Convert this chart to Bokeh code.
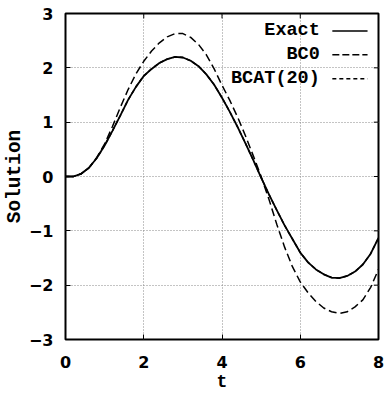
from bokeh.plotting import figure
from bokeh.models import Label, Arrow, FixedTicker
from bokeh.embed import file_html
from bokeh.resources import INLINE

t = [0.0, 0.2, 0.4, 0.6, 0.8, 1.0, 1.2, 1.4, 1.6, 1.8, 2.0, 2.2, 2.4, 2.6, 2.8,
     3.0, 3.2, 3.4, 3.6, 3.8, 4.0, 4.2, 4.4, 4.6, 4.8, 5.0, 5.2, 5.4, 5.6, 5.8,
     6.0, 6.2, 6.4, 6.6, 6.8, 7.0, 7.2, 7.4, 7.6, 7.8, 8.0]
exact = [0.0, 0.0, 0.05, 0.16, 0.34, 0.57, 0.84, 1.12, 1.41, 1.65, 1.85, 1.98,
         2.09, 2.16, 2.2, 2.19, 2.13, 2.03, 1.88, 1.69, 1.45, 1.19, 0.91, 0.61,
         0.3, -0.02, -0.33, -0.62, -0.9, -1.15, -1.4, -1.58, -1.71, -1.8, -1.86,
         -1.87, -1.83, -1.75, -1.62, -1.42, -1.13]
bc0 = [0.0, 0.0, 0.05, 0.16, 0.35, 0.6, 0.92, 1.27, 1.6, 1.89, 2.12, 2.31,
       2.46, 2.57, 2.63, 2.63, 2.56, 2.43, 2.24, 1.98, 1.68, 1.4, 1.09, 0.75,
       0.38, 0.0, -0.42, -0.88, -1.3, -1.66, -1.94, -2.14, -2.3, -2.42, -2.49,
       -2.52, -2.49, -2.4, -2.27, -2.04, -1.71]
bcat20 = exact

x_ticks = [0, 2, 4, 6, 8]
y_ticks = [-3, -2, -1, 0, 1, 2, 3]
legend_labels = ["Exact", "BC0", "BCAT(20)"]

X0, X1, Y0, Y1 = 0, 8, -3, 3

p = figure(width=384, height=396, x_range=(X0, X1), y_range=(Y0, Y1),
           output_backend="svg", toolbar_location=None,
           min_border_left=65, min_border_right=6, min_border_top=13,
           min_border_bottom=57, background_fill_color="white",
           border_fill_color="white")

p.outline_line_color = "black"
p.outline_line_width = 2
p.outline_line_alpha = 1

tick_font = "DejaVu Sans"
lab_font = "Liberation Mono"

for ax in (p.xaxis[0], p.yaxis[0]):
    ax.axis_line_color = None
    ax.major_tick_in = 5
    ax.major_tick_out = 0
    ax.major_tick_line_width = 1
    ax.minor_tick_line_color = None
    ax.major_label_text_font = tick_font
    ax.major_label_text_font_style = "bold"
    ax.major_label_text_font_size = "16px"
    ax.major_label_text_color = "black"
    ax.axis_label_text_font = lab_font
    ax.axis_label_text_font_style = "bold"
    ax.axis_label_text_font_size = "19.5px"
    ax.axis_label_text_color = "black"

p.xaxis[0].ticker = FixedTicker(ticks=x_ticks)
p.yaxis[0].ticker = FixedTicker(ticks=y_ticks)
p.xaxis[0].axis_label = "t"
p.yaxis[0].axis_label = "Solution"
p.xaxis[0].axis_label_text_font_size = "18px"
p.xaxis[0].major_label_standoff = 16
p.xaxis[0].axis_label_standoff = 1
p.yaxis[0].major_label_standoff = 12
p.yaxis[0].axis_label_standoff = 0

p.xgrid[0].ticker = FixedTicker(ticks=x_ticks)
p.ygrid[0].ticker = FixedTicker(ticks=y_ticks)
for g in (p.xgrid[0], p.ygrid[0]):
    g.grid_line_color = "#888888"
    g.grid_line_dash = "1 2"
    g.grid_line_width = 1

# mirrored inward ticks on the right and top borders
p.segment(x0=[X1] * len(y_ticks), y0=y_ticks, x1=[X1 - 0.12] * len(y_ticks),
          y1=y_ticks, line_color="black", line_width=1)
p.segment(x0=x_ticks, y0=[Y1] * len(x_ticks), x1=x_ticks,
          y1=[Y1 - 0.09] * len(x_ticks), line_color="black", line_width=1)

p.line(t, exact, line_color="black", line_width=1.8)
p.line(t, bc0, line_color="black", line_width=1.5, line_dash="8 4")
p.line(t, bcat20, line_color="black", line_width=1.5, line_dash="4 3")

# legend (gnuplot style: text right-aligned, sample to the right)
leg_text_x = 6.5
leg_x0, leg_x1 = 6.82, 7.72
leg_y = [2.68, 2.24, 1.80]
leg_dash = ["solid", "7 3", "4 3"]
for lab, yy, dash in zip(legend_labels, leg_y, leg_dash):
    p.add_layout(Label(x=leg_text_x, y=yy, text=lab, text_align="right",
                       text_baseline="middle", text_font=lab_font,
                       text_font_style="bold", text_font_size="18.5px",
                       text_color="black"))
    p.add_layout(Arrow(end=None, x_start=leg_x0, y_start=yy, x_end=leg_x1,
                       y_end=yy, line_color="black", line_width=1.5,
                       line_dash=dash))

open("out.html", "w").write(file_html(p, INLINE))
